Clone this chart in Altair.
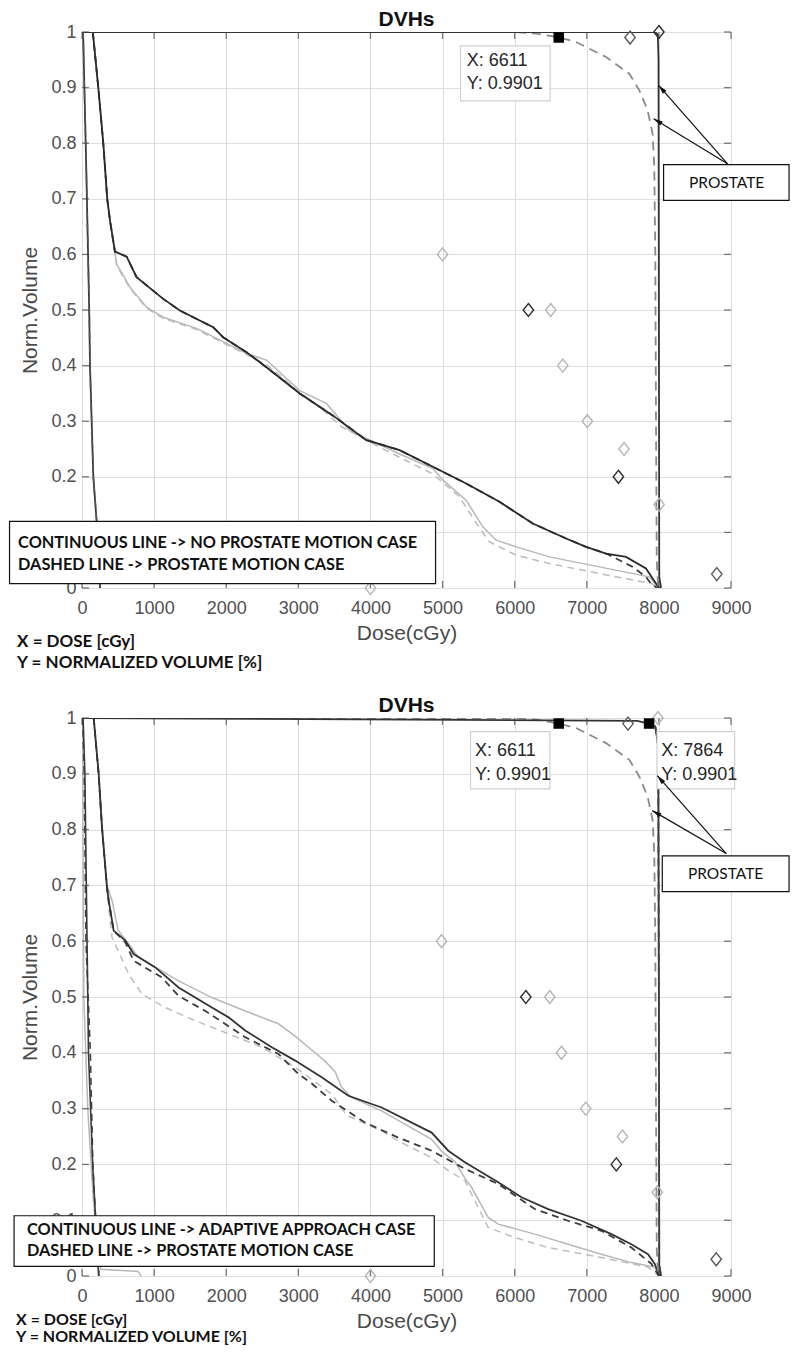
import math
import altair as alt
import pandas as pd

# ---------------- data (dose in cGy, normalized volume) ----------------
# ---- top panel ----
top_left_x = [15, 60, 100, 111, 157, 203, 230, 250]
top_left_y = [1.0, 0.75, 0.5, 0.4, 0.2, 0.12, 0.05, 0.0]

top_dark_x = [150, 226, 295, 350, 388, 457, 619, 757, 1126, 1357, 1819, 1957, 2281, 2558, 3019, 3481, 3943, 4404,
              4866, 5327, 5789, 6251, 6713, 6990, 7267, 7544, 7821, 7960, 8005]
top_dark_y = [1.0, 0.9, 0.8, 0.7, 0.661, 0.605, 0.596, 0.559, 0.52, 0.499, 0.469, 0.451, 0.424, 0.397, 0.35, 0.31,
              0.266, 0.248, 0.218, 0.188, 0.155, 0.116, 0.089, 0.074, 0.062, 0.056, 0.035, 0.008, 0.0]

top_dark_dash_x = [150, 226, 295, 350, 388, 457, 619, 757, 1126, 1357, 1819, 1957, 2281, 2558, 3019, 3481, 3943,
                   4404, 4866, 5327, 5789, 6251, 6713, 6990, 7267, 7406, 7636, 7821, 7900, 7980]
top_dark_dash_y = [1.0, 0.9, 0.8, 0.7, 0.661, 0.605, 0.596, 0.559, 0.52, 0.499, 0.469, 0.451, 0.424, 0.397, 0.35,
                   0.31, 0.266, 0.248, 0.218, 0.188, 0.155, 0.116, 0.089, 0.074, 0.062, 0.053, 0.038, 0.02, 0.006, 0.0]

top_light_x = [150, 226, 295, 350, 388, 480, 665, 896, 1126, 1589, 1957, 2281, 2558, 3019, 3389, 3712, 4404, 4866,
               5005, 5327, 5558, 5743, 6020, 6482, 7175, 7867, 8000]
top_light_y = [1.0, 0.9, 0.8, 0.7, 0.661, 0.583, 0.541, 0.505, 0.487, 0.467, 0.443, 0.422, 0.41, 0.355, 0.332, 0.283,
               0.241, 0.215, 0.194, 0.158, 0.11, 0.086, 0.074, 0.056, 0.038, 0.02, 0.0]

top_light_dash_x = [150, 226, 295, 350, 388, 480, 665, 896, 1126, 1589, 1957, 2281, 2558, 3019, 3300, 3600, 4000,
                    4404, 4866, 5235, 5450, 5650, 6020, 6482, 7175, 7900, 7990]
top_light_dash_y = [1.0, 0.9, 0.8, 0.7, 0.661, 0.58, 0.539, 0.503, 0.485, 0.465, 0.441, 0.42, 0.402, 0.352, 0.325,
                    0.29, 0.262, 0.235, 0.205, 0.164, 0.12, 0.083, 0.059, 0.044, 0.026, 0.008, 0.0]

ptv_dash_x = [0, 6000, 6300, 6611, 6852, 7267, 7590, 7729, 7844, 7913, 7936, 7950, 7960, 7970, 7990]
ptv_dash_y = [1.0, 1.0, 0.997, 0.9901, 0.982, 0.955, 0.925, 0.895, 0.859, 0.817, 0.757, 0.6, 0.3, 0.05, 0.0]

top_ptv_x = [0, 7950, 7985, 7995, 8000, 8005, 8030]
top_ptv_y = [1.0, 1.0, 0.995, 0.95, 0.5, 0.02, 0.0]

# ---- bottom panel ----
bot_left_dark_x = [15, 40, 70, 90, 148, 186, 231]
bot_left_dark_y = [1.0, 0.9, 0.6, 0.4, 0.2, 0.11, 0.0]
bot_left_dash_x = [10, 30, 55, 116, 150, 190, 235]
bot_left_dash_y = [1.0, 0.9, 0.6, 0.4, 0.2, 0.1, 0.0]
bot_left_light_x = [0, 10, 25, 80, 150, 220, 260, 780, 820]
bot_left_light_y = [1.0, 0.9, 0.5, 0.3, 0.15, 0.04, 0.012, 0.008, 0.0]

bot_dark_x = [162, 231, 277, 346, 370, 439, 601, 716, 1017, 1339, 1801, 2032, 2263, 2632, 2956, 3324, 3694, 4155,
              4848, 5079, 5309, 5771, 6094, 6464, 6926, 7341, 7618, 7849, 7941, 8010]
bot_dark_y = [1.0, 0.9, 0.804, 0.697, 0.673, 0.619, 0.601, 0.577, 0.553, 0.517, 0.481, 0.4635, 0.44, 0.41, 0.386,
              0.356, 0.323, 0.302, 0.257, 0.2245, 0.204, 0.168, 0.141, 0.12, 0.099, 0.075, 0.057, 0.039, 0.022, 0.0]

bot_dark_dash_x = [162, 231, 277, 346, 370, 439, 601, 716, 1108, 1339, 1709, 1986, 2263, 2724, 3001, 3186, 3463,
                   3925, 4386, 4848, 5310, 5771, 6279, 6741, 7203, 7618, 7895, 8000]
bot_dark_dash_y = [1.0, 0.9, 0.804, 0.697, 0.673, 0.619, 0.598, 0.565, 0.535, 0.502, 0.475, 0.4516, 0.428, 0.398,
                   0.362, 0.345, 0.314, 0.275, 0.248, 0.2245, 0.192, 0.165, 0.12, 0.099, 0.081, 0.051, 0.022, 0.0]

bot_light_x = [162, 231, 277, 346, 416, 500, 785, 1339, 1801, 2263, 2724, 2956, 3186, 3371, 3510, 3601, 3740, 4155,
               4848, 5000, 5171, 5310, 5402, 5632, 5771, 6279, 6741, 7203, 7618, 7941, 8000]
bot_light_y = [1.0, 0.9, 0.81, 0.7, 0.673, 0.62, 0.571, 0.529, 0.499, 0.475, 0.452, 0.43, 0.405, 0.385, 0.366, 0.338,
               0.32, 0.296, 0.245, 0.222, 0.205, 0.175, 0.159, 0.105, 0.093, 0.075, 0.057, 0.039, 0.024, 0.016, 0.0]

bot_light_dash_x = [162, 231, 277, 346, 416, 647, 832, 1155, 1571, 2032, 2494, 2956, 3463, 3670, 4155, 4386, 4848,
                    5079, 5309, 5632, 6002, 6464, 7203, 7849, 8000]
bot_light_dash_y = [1.0, 0.9, 0.8, 0.69, 0.607, 0.541, 0.505, 0.481, 0.4575, 0.434, 0.41, 0.374, 0.326, 0.288, 0.26,
                    0.242, 0.212, 0.189, 0.171, 0.087, 0.069, 0.051, 0.033, 0.016, 0.0]

bot_ptv_x = [0, 7700, 7864, 7950, 7990, 8000, 8005, 8030]
bot_ptv_y = [1.0, 0.995, 0.9901, 0.985, 0.95, 0.5, 0.02, 0.0]

# diamond markers (dose, volume, tone)
top_dia_x = [5000, 6190, 6500, 6667, 7008, 7517, 7439, 8003, 8803, 7600, 8000, 4000]
top_dia_y = [0.6, 0.5, 0.5, 0.4, 0.3, 0.25, 0.2, 0.15, 0.025, 0.99, 1.0, 0.0]
top_dia_t = ["light", "dark", "light", "light", "light", "light", "dark", "light", "mid", "mid", "dark", "light"]

bot_dia_x = [4986, 6155, 6487, 6649, 6986, 7495, 7410, 7978, 8795, 7572, 7987, 4000]
bot_dia_y = [0.6, 0.5, 0.5, 0.4, 0.3, 0.25, 0.2, 0.15, 0.03, 0.99, 1.0, 0.0]
bot_dia_t = ["light", "dark", "light", "light", "light", "light", "dark", "light", "mid", "mid", "light", "light"]

# data tips (selected points)
top_tip_x = [6611]
top_tip_y = [0.9901]
bot_tip_x = [6611, 7864]
bot_tip_y = [0.9901, 0.9901]

# ---------------- styling / layout ----------------
W = 649
H_TOP = 556
H_BOT = 558
X_DOM = [0, 9000]
TONE = {"light": "#b5b5b5", "mid": "#5a5a5a", "dark": "#2e2e2e"}
AX_FONT = "Liberation Sans"
NOTE_FONT = "Lato"

xscale = alt.Scale(domain=X_DOM, nice=False, zero=False)
yscale = alt.Scale(domain=[0, 1], nice=False, zero=False)

x_axis = alt.Axis(values=list(range(0, 9001, 1000)), format="d", grid=True, gridColor="#dedede", gridWidth=1,
                  ticks=False, domain=False, labelFont=AX_FONT, labelFontSize=18, labelColor="#505050",
                  labelPadding=11.5, labelFlush=False, labelOverlap=False, title="Dose(cGy)", titleFont=AX_FONT,
                  titleFontSize=21, titleFontWeight="normal", titleColor="#4a4a4a", titlePadding=5)
y_axis = alt.Axis(values=[round(v * 0.1, 1) for v in range(11)], format=".1~f", grid=True, gridColor="#dedede",
                  gridWidth=1, ticks=False, domain=False, labelFont=AX_FONT, labelFontSize=18,
                  labelColor="#505050", labelPadding=6, labelFlush=False, labelOverlap=False, title="Norm.Volume",
                  titleFont=AX_FONT, titleFontSize=21, titleFontWeight="normal", titleColor="#4a4a4a",
                  titlePadding=10)


def X(field="dose"):
    return alt.X(f"{field}:Q", scale=xscale, axis=x_axis)


def Y(field="vol"):
    return alt.Y(f"{field}:Q", scale=yscale, axis=y_axis)


def DX(v):
    return alt.datum(v, scale=xscale, axis=x_axis)


def DY(v):
    return alt.datum(v, scale=yscale, axis=y_axis)


def line(xs, ys, color, width, dash=None):
    df = pd.DataFrame({"dose": xs, "vol": ys, "i": list(range(len(xs)))})
    kw = dict(color=color, strokeWidth=width, clip=True)
    if dash:
        kw["strokeDash"] = dash
    return alt.Chart(df).mark_line(**kw).encode(x=X(), y=Y(), order="i:Q")


def inside_ticks():
    xt = pd.DataFrame({"dose": list(range(0, 9001, 1000))})
    yt = pd.DataFrame({"vol": [round(v * 0.1, 1) for v in range(11)]})
    tk = dict(color="#444", thickness=1.3, size=7)
    layers = []
    for yv, off in [(0, -3.5), (1, 3.5)]:
        layers.append(alt.Chart(xt).mark_tick(orient="vertical", yOffset=off, **tk).encode(x=X(), y=DY(yv)))
    for xv, off in [(0, 3.5), (9000, -3.5)]:
        layers.append(alt.Chart(yt).mark_tick(orient="horizontal", xOffset=off, **tk).encode(y=Y(), x=DX(xv)))
    return layers


def diamonds(xs, ys, tones, big=169):
    df = pd.DataFrame({"dose": xs, "vol": ys, "c": [TONE[t] for t in tones]})
    return alt.Chart(df).mark_point(shape="M0,-1L0.8,0L0,1L-0.8,0Z", filled=False, size=big, strokeWidth=1.4,
                                    opacity=1, clip=False).encode(
        x=X(), y=Y(), color=alt.Color("c:N", scale=None))


def squares(xs, ys):
    df = pd.DataFrame({"dose": xs, "vol": ys})
    return alt.Chart(df).mark_point(shape="square", filled=True, color="black", size=110, opacity=1).encode(
        x=X(), y=Y())


def box(x0, x1, y0, y1, stroke, width=1.0, fill="white"):
    return alt.Chart(pd.DataFrame({"a": [0]})).mark_rect(fill=fill, stroke=stroke, strokeWidth=width).encode(
        x=DX(x0), x2=alt.datum(x1), y=DY(y0), y2=alt.datum(y1))


def text(x, y, s, size, font, weight="normal", align="left", color="#111"):
    return alt.Chart(pd.DataFrame({"a": [0]})).mark_text(text=s, fontSize=size, font=font, fontWeight=weight,
                                                         align=align, baseline="middle", color=color).encode(
        x=DX(x), y=DY(y))


def arrow(x0, y0, x1, y1, h):
    dx = (x1 - x0) * W / 9000.0
    dy = -(y1 - y0) * h
    ang = (math.degrees(math.atan2(dx, -dy)) + 360) % 360
    r = alt.Chart(pd.DataFrame({"a": [0]})).mark_rule(color="#111", strokeWidth=1.2).encode(
        x=DX(x0), y=DY(y0), x2=alt.datum(x1), y2=alt.datum(y1))
    head = alt.Chart(pd.DataFrame({"dose": [x1], "vol": [y1]})).mark_point(
        shape="M0,0L0.6,2.3L-0.6,2.3Z", filled=True, color="#111", size=64, angle=ang, opacity=1).encode(
        x=X(), y=Y())
    return [r, head]


def tips(xs, ys, boxes, tx):
    layers = []
    for (x, y), (bx0, bx1, by0, by1), t in zip(zip(xs, ys), boxes, tx):
        layers.append(box(bx0, bx1, by0, by1, "#cfcfcf", 1.2, fill="#ffffff"))
        layers.append(text(t[0], t[1], f"X: {x}", 18, AX_FONT, color="#262626"))
        layers.append(text(t[0], t[2], f"Y: {y}", 18, AX_FONT, color="#262626"))
    return layers


title_style = dict(fontSize=21, fontWeight="bold", font=AX_FONT, color="#111", offset=-7, anchor="middle",
                   frame="group")

# ---------------- top panel ----------------
top_layers = [
    line(top_light_x, top_light_y, "#b8b8b8", 1.5),
    line(top_light_dash_x, top_light_dash_y, "#bdbdbd", 1.5, dash=[7, 5]),
    line(top_left_x, top_left_y, "#3a3a3a", 1.8),
    line(top_left_x, top_left_y, "#555555", 1.5, dash=[7, 5]),
    line(top_dark_dash_x, top_dark_dash_y, "#3c3c3c", 1.8, dash=[7, 5]),
    line(top_dark_x, top_dark_y, "#2b2b2b", 1.8),
    line(ptv_dash_x, ptv_dash_y, "#8a8a8a", 1.8, dash=[9, 6]),
    line(top_ptv_x, top_ptv_y, "#333333", 1.8),
    *inside_ticks(),
    diamonds(top_dia_x, top_dia_y, top_dia_t),
    squares(top_tip_x, top_tip_y),
    *tips(top_tip_x, top_tip_y, [(5249, 6492, 0.876, 0.975)], [(5335, 0.947, 0.907)]),
    *arrow(8952, 0.763, 7996, 0.904, H_TOP),
    *arrow(8952, 0.763, 7927, 0.844, H_TOP),
    box(8065, 9805, 0.697, 0.7615, "#111", 1.2),
    text(8940, 0.729, "PROSTATE", 15.5, NOTE_FONT, align="center"),
    box(-1005, 4903, 0.008, 0.12, "#111", 1.2),
    text(-886, 0.081, "CONTINUOUS LINE -> NO PROSTATE MOTION CASE", 16.3, NOTE_FONT, "bold"),
    text(-886, 0.041, "DASHED LINE -> PROSTATE MOTION CASE", 16.3, NOTE_FONT, "bold"),
    text(-900, -0.0968, "X = DOSE [cGy]", 17, NOTE_FONT, "bold"),
    text(-900, -0.1345, "Y = NORMALIZED VOLUME [%]", 17, NOTE_FONT, "bold"),
]
top = alt.layer(*top_layers).properties(width=W, height=H_TOP, title=alt.Title("DVHs", **title_style))

# ---------------- bottom panel ----------------
bot_layers = [
    line(bot_light_x, bot_light_y, "#b8b8b8", 1.5),
    line(bot_light_dash_x, bot_light_dash_y, "#bdbdbd", 1.5, dash=[7, 5]),
    line(bot_left_light_x, bot_left_light_y, "#b8b8b8", 1.5),
    line(bot_left_dash_x, bot_left_dash_y, "#444444", 1.6, dash=[7, 5]),
    line(bot_left_dark_x, bot_left_dark_y, "#3a3a3a", 1.6),
    line(bot_dark_dash_x, bot_dark_dash_y, "#3c3c3c", 1.8, dash=[7, 5]),
    line(bot_dark_x, bot_dark_y, "#333333", 1.8),
    line(ptv_dash_x, ptv_dash_y, "#8a8a8a", 1.8, dash=[9, 6]),
    line(bot_ptv_x, bot_ptv_y, "#333333", 1.8),
    line(bot_ptv_x[3:], bot_ptv_y[3:], "#444444", 1.8, dash=[7, 5]),
    *inside_ticks(),
    diamonds(bot_dia_x, bot_dia_y, bot_dia_t),
    squares(bot_tip_x, bot_tip_y),
    *tips(bot_tip_x, bot_tip_y, [(5388, 6488, 0.873, 0.9755), (7974, 9050, 0.873, 0.9755)],
          [(5449, 0.941, 0.898), (8033, 0.941, 0.898)]),
    *arrow(8934, 0.757, 7978, 0.8966, H_BOT),
    *arrow(8934, 0.757, 7909, 0.834, H_BOT),
    box(8047, 9805, 0.689, 0.753, "#111", 1.2),
    text(8925, 0.721, "PROSTATE", 15.5, NOTE_FONT, align="center"),
    box(-942, 4885, 0.0172, 0.108, "#111", 1.2),
    text(-762, 0.0824, "CONTINUOUS LINE -> ADAPTIVE APPROACH CASE", 16.3, NOTE_FONT, "bold"),
    text(-762, 0.044, "DASHED LINE -> PROSTATE MOTION CASE", 16.3, NOTE_FONT, "bold"),
    text(-914, -0.0795, "X = DOSE [cGy]", 16, NOTE_FONT, "bold"),
    text(-914, -0.109, "Y = NORMALIZED VOLUME [%]", 16, NOTE_FONT, "bold"),
]
bottom = alt.layer(*bot_layers).properties(width=W, height=H_BOT, title=alt.Title("DVHs", **title_style))

chart = alt.vconcat(top, bottom, spacing=130, bounds="flush").properties(
    padding={"left": 0, "top": 0, "right": 0, "bottom": 0}
).configure_view(stroke="#4a4a4a", strokeWidth=1.4).configure(background="white")

chart.save("out.html", embed_options={"renderer": "svg", "actions": False})
